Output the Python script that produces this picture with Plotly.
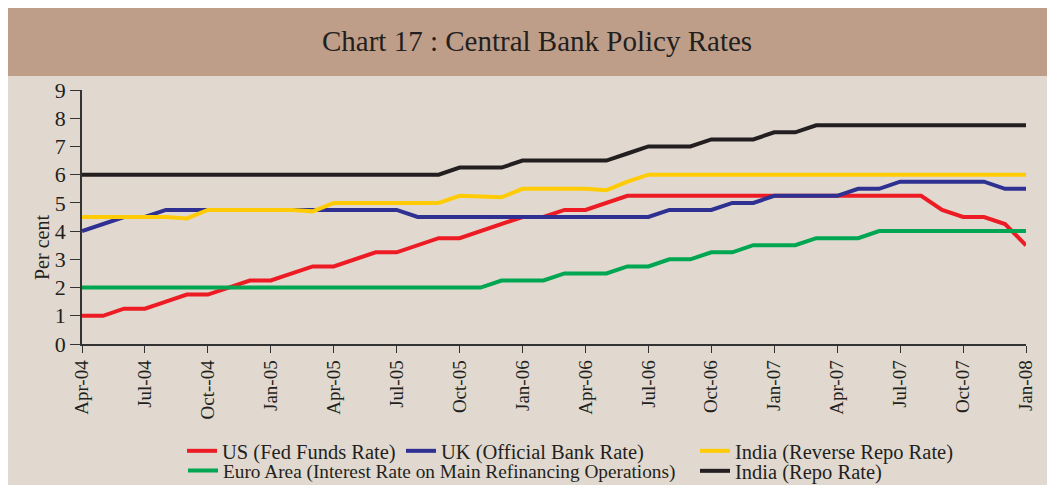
import plotly.graph_objects as go

months = ["Apr-04", "May-04", "Jun-04", "Jul-04", "Aug-04", "Sep-04", "Oct-04", "Nov-04", "Dec-04",
          "Jan-05", "Feb-05", "Mar-05", "Apr-05", "May-05", "Jun-05", "Jul-05", "Aug-05", "Sep-05",
          "Oct-05", "Nov-05", "Dec-05", "Jan-06", "Feb-06", "Mar-06", "Apr-06", "May-06", "Jun-06",
          "Jul-06", "Aug-06", "Sep-06", "Oct-06", "Nov-06", "Dec-06", "Jan-07", "Feb-07", "Mar-07",
          "Apr-07", "May-07", "Jun-07", "Jul-07", "Aug-07", "Sep-07", "Oct-07", "Nov-07", "Dec-07",
          "Jan-08"]

tick_months = ["Apr-04", "Jul-04", "Oct-04", "Jan-05", "Apr-05", "Jul-05", "Oct-05", "Jan-06",
               "Apr-06", "Jul-06", "Oct-06", "Jan-07", "Apr-07", "Jul-07", "Oct-07", "Jan-08"]
tick_labels = ["Apr-04", "Jul-04", "Oct--04", "Jan-05", "Apr-05", "Jul-05", "Oct-05", "Jan-06",
               "Apr-06", "Jul-06", "Oct-06", "Jan-07", "Apr-07", "Jul-07", "Oct-07", "Jan-08"]

us_fed_funds = [1.00, 1.00, 1.25, 1.25, 1.50, 1.75, 1.75, 2.00, 2.25,
                2.25, 2.50, 2.75, 2.75, 3.00, 3.25, 3.25, 3.50, 3.75,
                3.75, 4.00, 4.25, 4.50, 4.50, 4.75, 4.75, 5.00, 5.25,
                5.25, 5.25, 5.25, 5.25, 5.25, 5.25, 5.25, 5.25, 5.25,
                5.25, 5.25, 5.25, 5.25, 5.25, 4.75, 4.50, 4.50, 4.25,
                3.50]

uk_bank_rate = [4.00, 4.25, 4.50, 4.50, 4.75, 4.75, 4.75, 4.75, 4.75,
                4.75, 4.75, 4.75, 4.75, 4.75, 4.75, 4.75, 4.50, 4.50,
                4.50, 4.50, 4.50, 4.50, 4.50, 4.50, 4.50, 4.50, 4.50,
                4.50, 4.75, 4.75, 4.75, 5.00, 5.00, 5.25, 5.25, 5.25,
                5.25, 5.50, 5.50, 5.75, 5.75, 5.75, 5.75, 5.75, 5.50,
                5.50]

india_reverse_repo = [4.50, 4.50, 4.50, 4.50, 4.50, 4.45, 4.75, 4.75, 4.75,
                      4.75, 4.75, 4.70, 5.00, 5.00, 5.00, 5.00, 5.00, 5.00,
                      5.25, 5.22, 5.20, 5.50, 5.50, 5.50, 5.50, 5.45, 5.75,
                      6.00, 6.00, 6.00, 6.00, 6.00, 6.00, 6.00, 6.00, 6.00,
                      6.00, 6.00, 6.00, 6.00, 6.00, 6.00, 6.00, 6.00, 6.00,
                      6.00]

euro_mro = [2.00, 2.00, 2.00, 2.00, 2.00, 2.00, 2.00, 2.00, 2.00,
            2.00, 2.00, 2.00, 2.00, 2.00, 2.00, 2.00, 2.00, 2.00,
            2.00, 2.00, 2.25, 2.25, 2.25, 2.50, 2.50, 2.50, 2.75,
            2.75, 3.00, 3.00, 3.25, 3.25, 3.50, 3.50, 3.50, 3.75,
            3.75, 3.75, 4.00, 4.00, 4.00, 4.00, 4.00, 4.00, 4.00,
            4.00]

india_repo = [6.00, 6.00, 6.00, 6.00, 6.00, 6.00, 6.00, 6.00, 6.00,
              6.00, 6.00, 6.00, 6.00, 6.00, 6.00, 6.00, 6.00, 6.00,
              6.25, 6.25, 6.25, 6.50, 6.50, 6.50, 6.50, 6.50, 6.75,
              7.00, 7.00, 7.00, 7.25, 7.25, 7.25, 7.50, 7.50, 7.75,
              7.75, 7.75, 7.75, 7.75, 7.75, 7.75, 7.75, 7.75, 7.75,
              7.75]

FONT = "Liberation Serif"
TXT = "#231f20"

# (name, values, colour, legend id)
series = [
    ("US (Fed Funds Rate)", us_fed_funds, "#ed1c24", "legend"),
    ("Euro Area (Interest Rate on Main Refinancing Operations)", euro_mro, "#00a651", "legend4"),
    ("UK (Official Bank Rate)", uk_bank_rate, "#2e3192", "legend2"),
    ("India (Reverse Repo Rate)", india_reverse_repo, "#ffcb05", "legend3"),
    ("India (Repo Rate)", india_repo, "#231f20", "legend5"),
]

fig = go.Figure()
for name, vals, col, leg in series:
    fig.add_trace(go.Scatter(x=months, y=vals, mode="lines", name=name,
                             line=dict(color=col, width=4), legend=leg))

# page pixel -> paper coords (the page has an 8px body margin; plot area x 82..1026, y 90..344)
def px(x):
    return (x - 82) / 944.0

def py(y):
    return (344 - y) / 254.0

def leg(xp, yp, size=20.5):
    return dict(x=px(xp), y=py(yp), xanchor="left", yanchor="middle", orientation="h",
                bgcolor="rgba(0,0,0,0)", borderwidth=0,
                font=dict(family=FONT, size=size, color=TXT))

fig.update_layout(
    width=1047, height=477,
    margin=dict(l=74, r=29, t=82, b=141, autoexpand=False),
    paper_bgcolor="#e1d9cf", plot_bgcolor="#e1d9cf",
    showlegend=True,
    legend=leg(182, 451),
    legend2=leg(401, 451),
    legend3=leg(695, 451),
    legend4=leg(183, 471, 19.3),
    legend5=leg(695, 471),
    xaxis=dict(type="category", range=[0, len(months) - 1], tickmode="array",
               tickvals=tick_months, ticktext=tick_labels, tickangle=-90,
               ticks="outside", ticklen=7, tickcolor="#333", showline=True,
               linecolor="#333", linewidth=1.5, showgrid=False, zeroline=False,
               tickfont=dict(family=FONT, size=19, color=TXT)),
    yaxis=dict(range=[0, 9], tickmode="array", tickvals=list(range(10)),
               ticks="outside", ticklen=10, tickcolor="#333", showline=True,
               linecolor="#333", linewidth=1.5, showgrid=False, zeroline=False,
               tickfont=dict(family=FONT, size=22, color=TXT)),
    shapes=[
        dict(type="rect", xref="paper", yref="paper", x0=-0.2, x1=1.2, y0=py(76), y1=1.6,
             fillcolor="#bf9e89", line=dict(width=0), layer="below"),
    ],
    annotations=[
        dict(text="Chart 17 : Central Bank Policy Rates", xref="paper", yref="paper",
             x=px(537), y=py(41), xanchor="center", yanchor="middle", showarrow=False,
             font=dict(family=FONT, size=29, color=TXT)),
        dict(text="Per cent", xref="paper", yref="paper", x=px(42), y=py(248),
             xanchor="center", yanchor="middle", textangle=-90, showarrow=False,
             font=dict(family=FONT, size=20, color=TXT)),
    ],
)

fig.write_html("out.html")
